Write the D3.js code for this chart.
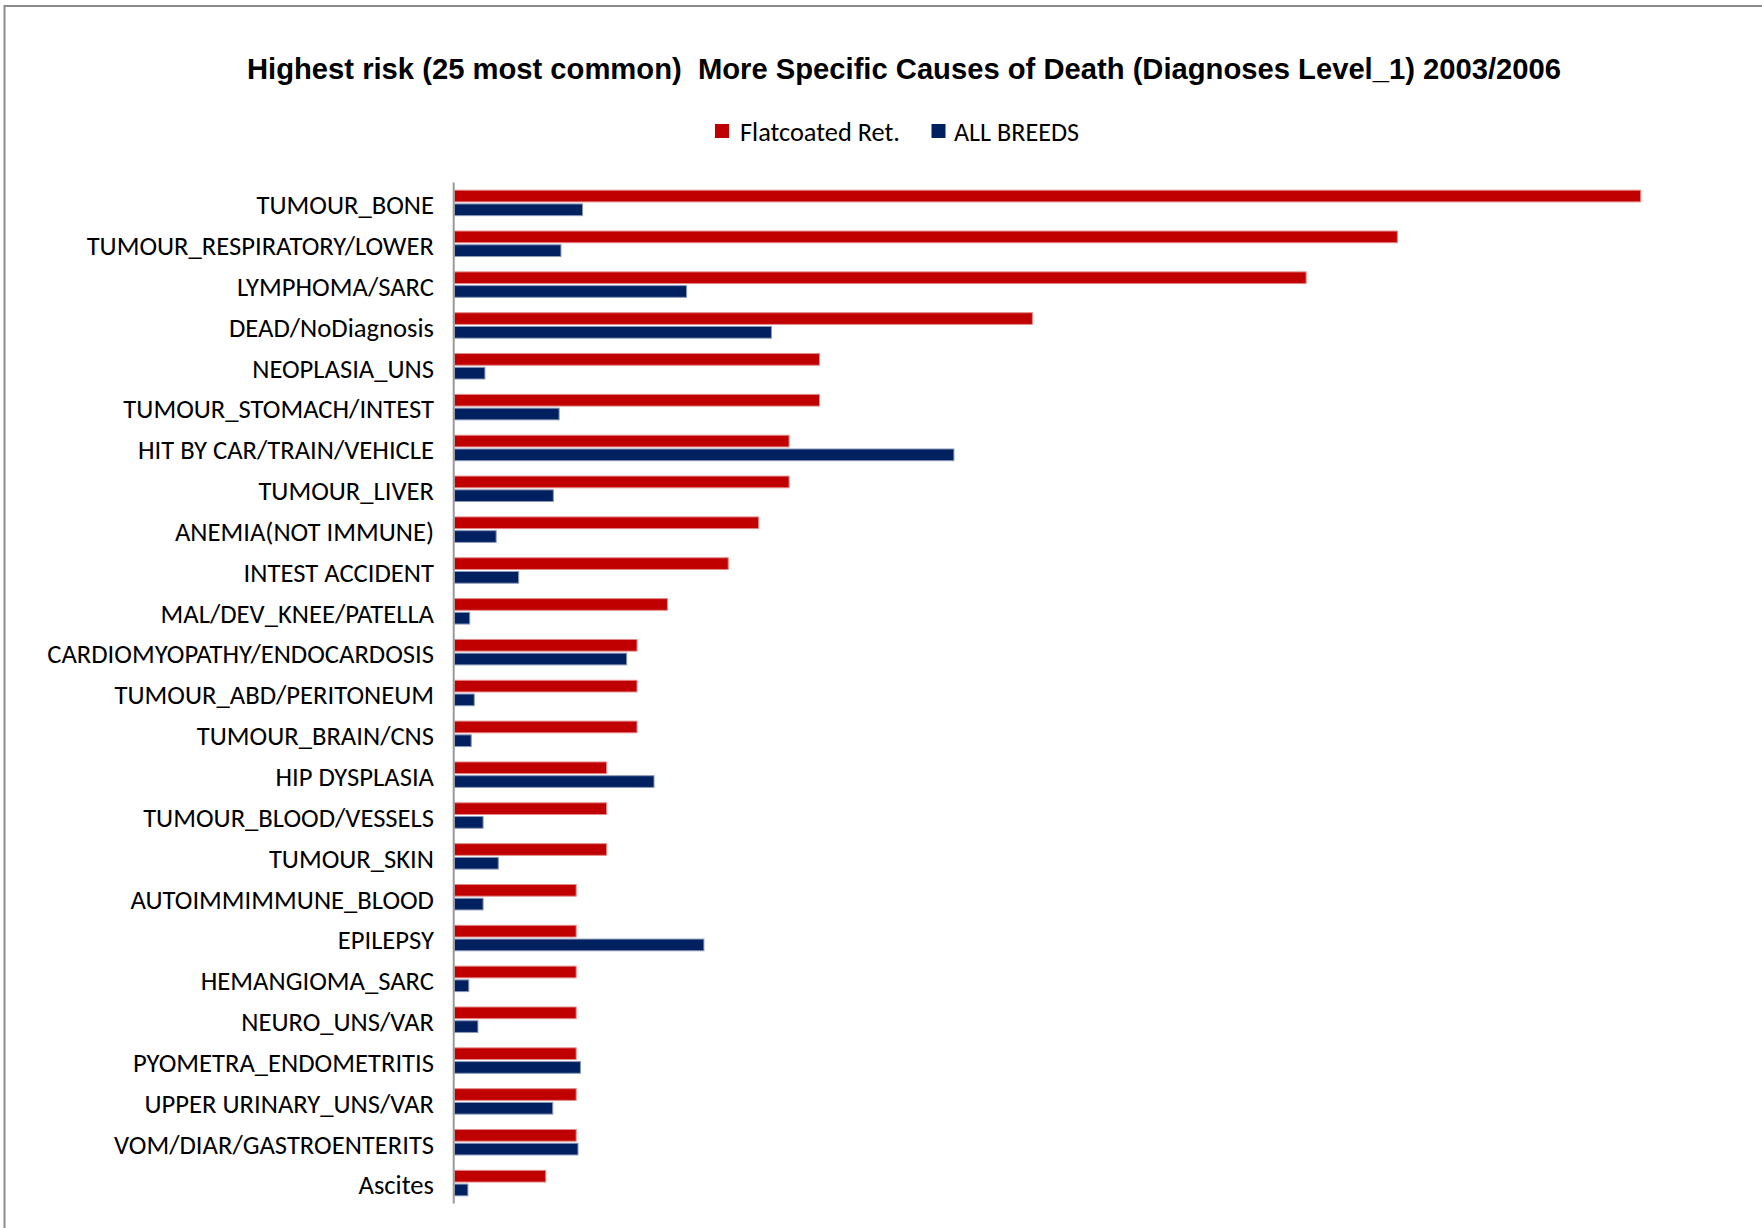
<!DOCTYPE html>
<html>
<head>
<meta charset="utf-8">
<script src="https://cdn.jsdelivr.net/npm/d3@7"></script>
<style>
  body { margin: 0; background: #fff; }
  svg { display: block; }
</style>
</head>
<body>
<div id="chart"></div>
<script>
var red = '#c00000',
    navy = '#002060';

var categories = ['TUMOUR_BONE', 'TUMOUR_RESPIRATORY/LOWER', 'LYMPHOMA/SARC', 'DEAD/NoDiagnosis',
  'NEOPLASIA_UNS', 'TUMOUR_STOMACH/INTEST', 'HIT BY CAR/TRAIN/VEHICLE', 'TUMOUR_LIVER',
  'ANEMIA(NOT IMMUNE)', 'INTEST ACCIDENT', 'MAL/DEV_KNEE/PATELLA', 'CARDIOMYOPATHY/ENDOCARDOSIS',
  'TUMOUR_ABD/PERITONEUM', 'TUMOUR_BRAIN/CNS', 'HIP DYSPLASIA', 'TUMOUR_BLOOD/VESSELS',
  'TUMOUR_SKIN', 'AUTOIMMIMMUNE_BLOOD', 'EPILEPSY', 'HEMANGIOMA_SARC', 'NEURO_UNS/VAR',
  'PYOMETRA_ENDOMETRITIS', 'UPPER URINARY_UNS/VAR', 'VOM/DIAR/GASTROENTERITS', 'Ascites'];
var seriesNames = ['Flatcoated Ret.', 'ALL BREEDS'];
var flatcoated = [39, 31, 28, 19, 12, 12, 11, 11, 10, 9, 7, 6, 6, 6, 5, 5, 5, 4, 4, 4, 4, 4, 4, 4, 3];
var allBreeds = [4.21, 3.5, 7.63, 10.42, 1.0, 3.44, 16.42, 3.25, 1.37, 2.11, 0.5, 5.66, 0.65, 0.55,
  6.56, 0.94, 1.44, 0.94, 8.2, 0.47, 0.77, 4.14, 3.23, 4.06, 0.44];
var title = 'Highest risk (25 most common)  More Specific Causes of Death (Diagnoses Level_1) 2003/2006';

var width = 1762, height = 1228;
var colors = [red, navy];
var strokes = ['#e38a8a', '#8a98b8'];

var rows = categories.map(function(c, i) {
  return { name: c, values: [flatcoated[i], allBreeds[i]] };
});

var svg = d3.select('#chart').append('svg').attr('width', width).attr('height', height);

// outer frame (only top/left edges are visible in the picture)
svg.append('rect').attr('x', 4.5).attr('y', 6).attr('width', 1800).attr('height', 1300)
  .attr('fill', 'none').attr('stroke', '#8c8c8c').attr('stroke-width', 2);

var x = d3.scaleLinear().domain([0, d3.max(flatcoated)]).range([454.5, 1640.7]);
var y = d3.scaleBand().domain(categories).range([182.5, 1203.5]).paddingInner(0.377).paddingOuter(0.1885);
var y1 = d3.scaleBand().domain([0, 1]).range([0, y.bandwidth()]).paddingInner(0.15);

var g = svg.selectAll('.cat').data(rows).enter().append('g').attr('class', 'cat')
  .attr('transform', function(d) { return 'translate(0,' + y(d.name) + ')'; });

g.selectAll('rect').data(function(d) { return d.values; }).enter().append('rect')
  .attr('x', x(0))
  .attr('y', function(d, i) { return y1(i); })
  .attr('width', function(d) { return x(d) - x(0); })
  .attr('height', y1.bandwidth())
  .attr('fill', function(d, i) { return colors[i]; })
  .attr('stroke', function(d, i) { return strokes[i]; })
  .attr('stroke-width', 1);

// vertical category axis line
svg.append('line').attr('x1', 453.7).attr('x2', 453.7).attr('y1', 182.5).attr('y2', 1203.5)
  .attr('stroke', '#9a9a9a').attr('stroke-width', 2);

// category labels
var labelFont = 'Carlito, Calibri, Lato, sans-serif';
var labels = svg.append('g').selectAll('text').data(categories).enter().append('text')
  .attr('x', 434)
  .attr('y', function(d) { return y(d) - y.paddingOuter() * y.step() + y.step() / 2 + 2; })
  .attr('dy', '0.35em')
  .attr('text-anchor', 'end')
  .style('font-family', labelFont)
  .style('font-size', '24px')
  .attr('fill', '#000')
  .text(function(d) { return d; });

// fit the font so the longest label spans like the original
var longest = d3.max(labels.nodes(), function(n) { return n.getComputedTextLength(); });
var fs = 24 * 387 / longest;
labels.style('font-size', fs + 'px');

// title
svg.append('text').attr('x', 904).attr('y', 79).attr('text-anchor', 'middle')
  .style('font-family', '"Liberation Sans", Arial, sans-serif').style('font-weight', 'bold')
  .style('font-size', '29px').style('white-space', 'pre')
  .attr('textLength', 1314).attr('lengthAdjust', 'spacingAndGlyphs')
  .text(title);

// legend
var legendPos = [{ box: 715, text: 740, w: 160 }, { box: 931.5, text: 954, w: 125 }];
var legend = svg.append('g').selectAll('g').data(seriesNames).enter().append('g');
legend.append('rect')
  .attr('x', function(d, i) { return legendPos[i].box; })
  .attr('y', 124).attr('width', 14).attr('height', 14)
  .attr('fill', function(d, i) { return colors[i]; });
legend.append('text')
  .attr('x', function(d, i) { return legendPos[i].text; })
  .attr('y', 132).attr('dy', '0.35em')
  .style('font-family', labelFont).style('font-size', fs + 'px')
  .attr('textLength', function(d, i) { return legendPos[i].w; })
  .attr('lengthAdjust', 'spacingAndGlyphs')
  .text(function(d) { return d; });
</script>
</body>
</html>
